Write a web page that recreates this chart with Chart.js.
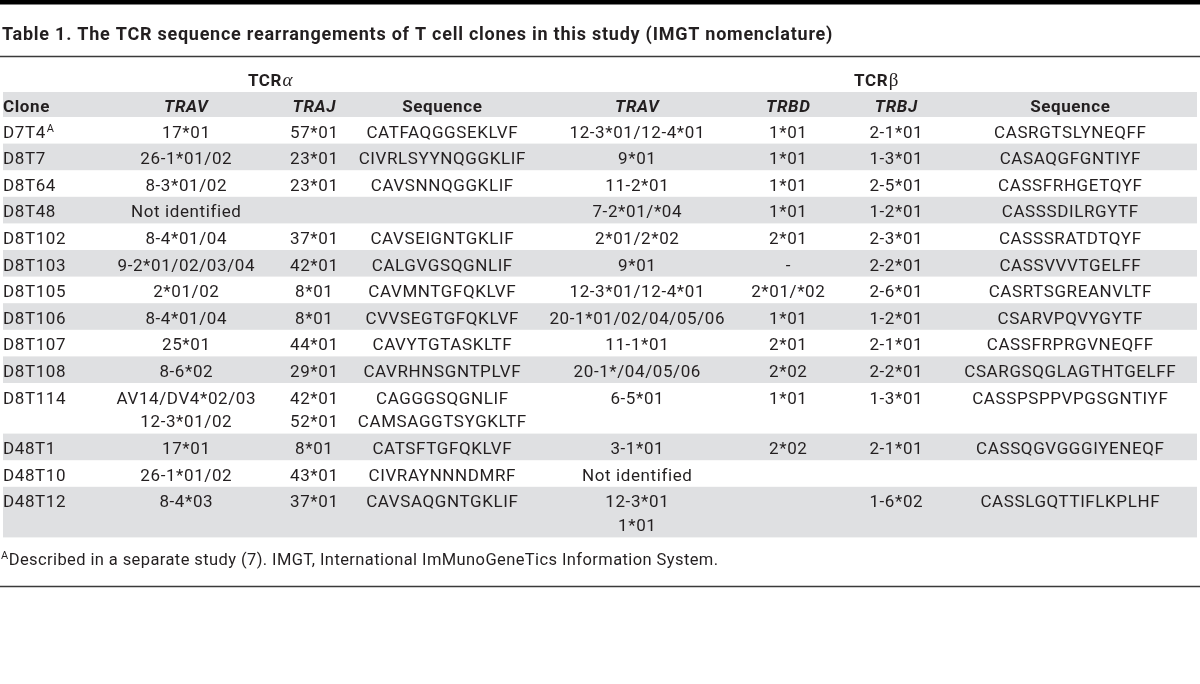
<!DOCTYPE html>
<html lang="en">
<head>
    <meta charset="UTF-8">
    <title>Table 1. TCR sequence rearrangements</title>
    <script src="https://cdn.jsdelivr.net/npm/chart.js"></script>
    <style>
        body { margin: 0; background: #fff; }
        canvas { display: block; }
    </style>
</head>
<body>
    <canvas id="tablaTCR" width="1200" height="684"></canvas>

    <script>
        // Datos de la tabla (una lista por columna)
        var clones = ['D7T4', 'D8T7', 'D8T64', 'D8T48', 'D8T102', 'D8T103', 'D8T105', 'D8T106', 'D8T107', 'D8T108', 'D8T114', 'D48T1', 'D48T10', 'D48T12'];
        var cloneNotes = { 'D7T4': 'A' };
        var travAlpha = ['17*01', '26-1*01/02', '8-3*01/02', 'Not identified', '8-4*01/04', '9-2*01/02/03/04', '2*01/02', '8-4*01/04', '25*01', '8-6*02', 'AV14/DV4*02/03\n12-3*01/02', '17*01', '26-1*01/02', '8-4*03'];
        var trajAlpha = ['57*01', '23*01', '23*01', '', '37*01', '42*01', '8*01', '8*01', '44*01', '29*01', '42*01\n52*01', '8*01', '43*01', '37*01'];
        var seqAlpha = ['CATFAQGGSEKLVF', 'CIVRLSYYNQGGKLIF', 'CAVSNNQGGKLIF', '', 'CAVSEIGNTGKLIF', 'CALGVGSQGNLIF', 'CAVMNTGFQKLVF', 'CVVSEGTGFQKLVF', 'CAVYTGTASKLTF', 'CAVRHNSGNTPLVF', 'CAGGGSQGNLIF\nCAMSAGGTSYGKLTF', 'CATSFTGFQKLVF', 'CIVRAYNNNDMRF', 'CAVSAQGNTGKLIF'];
        var travBeta = ['12-3*01/12-4*01', '9*01', '11-2*01', '7-2*01/*04', '2*01/2*02', '9*01', '12-3*01/12-4*01', '20-1*01/02/04/05/06', '11-1*01', '20-1*/04/05/06', '6-5*01', '3-1*01', 'Not identified', '12-3*01\n1*01'];
        var trbd = ['1*01', '1*01', '1*01', '1*01', '2*01', '-', '2*01/*02', '1*01', '2*01', '2*02', '1*01', '2*02', '', ''];
        var trbj = ['2-1*01', '1-3*01', '2-5*01', '1-2*01', '2-3*01', '2-2*01', '2-6*01', '1-2*01', '2-1*01', '2-2*01', '1-3*01', '2-1*01', '', '1-6*02'];
        var seqBeta = ['CASRGTSLYNEQFF', 'CASAQGFGNTIYF', 'CASSFRHGETQYF', 'CASSSDILRGYTF', 'CASSSRATDTQYF', 'CASSVVVTGELFF', 'CASRTSGREANVLTF', 'CSARVPQVYGYTF', 'CASSFRPRGVNEQFF', 'CSARGSQGLAGTHTGELFF', 'CASSPSPPVPGSGNTIYF', 'CASSQGVGGGIYENEQF', '', 'CASSLGQTTIFLKPLHF'];

        var columnHeads = ['Clone', 'TRAV', 'TRAJ', 'Sequence', 'TRAV', 'TRBD', 'TRBJ', 'Sequence'];
        var italicHeads = [false, true, true, false, true, true, true, false];
        var groupHeads = [['TCR', 'α'], ['TCR', 'β']];
        var titleText = 'Table 1. The TCR sequence rearrangements of T cell clones in this study (IMGT nomenclature)';
        var footnoteMark = 'A';
        var footnoteText = 'Described in a separate study (7). IMGT, International ImMunoGeneTics Information System.';

        // Layout (unidades de las escalas x / y)
        var colX = [3, 186, 314, 442, 637, 788, 896, 1070];
        var groupX = [270, 876];
        var headBandTop = 92, bodyTop = 117, rowPitch = 26.6, linePitch = 24;
        var ink = '#231f20', bandColor = '#dfe0e2';
        var fontFam = 'Roboto, "Open Sans", sans-serif';

        var columns = [clones, travAlpha, trajAlpha, seqAlpha, travBeta, trbd, trbj, seqBeta];

        function linesOf(i) {
            var n = 1;
            columns.forEach(function(col) {
                n = Math.max(n, String(col[i]).split('\n').length);
            });
            return n;
        }

        // texto con espaciado; centrado sin contar el espacio final
        function drawText(ctx, txt, x, y, align, spacing) {
            ctx.letterSpacing = spacing + 'px';
            var w = ctx.measureText(txt).width - spacing;
            var x0 = align === 'center' ? x - w / 2 : x;
            ctx.textAlign = 'left';
            ctx.fillText(txt, x0, y);
            ctx.letterSpacing = '0px';
            return w;
        }

        var tablePlugin = {
            id: 'tablePlugin',
            afterDraw: function(chart) {
                var ctx = chart.ctx;
                var sx = chart.scales.x, sy = chart.scales.y;
                var X = function(v) { return sx.getPixelForValue(v); };
                var Y = function(v) { return sy.getPixelForValue(v); };
                var W = X(1200) - X(0);

                ctx.save();
                ctx.textBaseline = 'alphabetic';

                // barra superior y titulo
                ctx.fillStyle = '#000';
                ctx.fillRect(X(0), Y(0), W, Y(4.5) - Y(0));
                ctx.fillStyle = ink;
                ctx.font = 'bold 18px ' + fontFam;
                drawText(ctx, titleText, X(2), Y(39.5), 'left', 0.75);

                ctx.strokeStyle = '#3a3a3a';
                ctx.lineWidth = 1.5;
                ctx.beginPath();
                ctx.moveTo(X(0), Y(56.5));
                ctx.lineTo(X(1200), Y(56.5));
                ctx.stroke();

                // encabezados de grupo
                groupHeads.forEach(function(g, k) {
                    ctx.font = 'bold 17px ' + fontFam;
                    ctx.letterSpacing = '0.6px';
                    var w1 = ctx.measureText(g[0]).width;
                    ctx.letterSpacing = '0px';
                    ctx.font = (k === 0 ? 'italic ' : '') + '19px "Liberation Serif", serif';
                    var w2 = ctx.measureText(g[1]).width;
                    var x0 = X(groupX[k]) - (w1 + w2) / 2;
                    ctx.font = 'bold 17px ' + fontFam;
                    drawText(ctx, g[0], x0, Y(85.5), 'left', 0.6);
                    ctx.font = (k === 0 ? 'italic ' : '') + '19px "Liberation Serif", serif';
                    ctx.textAlign = 'left';
                    ctx.fillText(g[1], x0 + w1 + 0.5, Y(85.5));
                });

                // bandas grises
                ctx.fillStyle = bandColor;
                ctx.fillRect(X(3), Y(headBandTop), X(1197) - X(3), Y(bodyTop) - Y(headBandTop));
                var top = bodyTop, rowTops = [];
                clones.forEach(function(c, i) {
                    var h = rowPitch + (linesOf(i) - 1) * linePitch;
                    rowTops.push(top);
                    if (i % 2 === 1) {
                        ctx.fillStyle = bandColor;
                        ctx.fillRect(X(3), Y(top), X(1197) - X(3), Y(top + h) - Y(top));
                    }
                    top += h;
                });
                var tableBottom = top;

                // encabezados de columna
                ctx.fillStyle = ink;
                columnHeads.forEach(function(t, j) {
                    ctx.font = (italicHeads[j] ? 'italic ' : '') + 'bold 17px ' + fontFam;
                    drawText(ctx, t, X(colX[j]), Y(111.5), j === 0 ? 'left' : 'center', 0.6);
                });

                // celdas
                columns.forEach(function(col, j) {
                    col.forEach(function(val, i) {
                        String(val).split('\n').forEach(function(line, k) {
                            if (!line) return;
                            var yy = Y(rowTops[i] + 20.5 + k * 23.3);
                            ctx.font = '17px ' + fontFam;
                            var w = drawText(ctx, line, X(colX[j]), yy, j === 0 ? 'left' : 'center', 0.6);
                            if (j === 0 && cloneNotes[line]) {
                                ctx.font = '11px ' + fontFam;
                                ctx.fillText(cloneNotes[line], X(colX[j]) + w + 1.5, yy - 6);
                            }
                        });
                    });
                });

                // nota al pie
                ctx.textAlign = 'left';
                ctx.font = '11px ' + fontFam;
                ctx.fillText(footnoteMark, X(1), Y(tableBottom + 22));
                var wm = ctx.measureText(footnoteMark).width;
                ctx.font = '16.5px ' + fontFam;
                drawText(ctx, footnoteText, X(1) + wm + 0.5, Y(tableBottom + 28), 'left', 0.4);

                ctx.strokeStyle = '#3a3a3a';
                ctx.lineWidth = 1.5;
                ctx.beginPath();
                ctx.moveTo(X(0), Y(tableBottom + 49));
                ctx.lineTo(X(1200), Y(tableBottom + 49));
                ctx.stroke();

                ctx.restore();
            }
        };

        var ctxTabla = document.getElementById('tablaTCR').getContext('2d');
        var tabla = new Chart(ctxTabla, {
            type: 'scatter',
            data: { datasets: [] },
            options: {
                responsive: false,
                animation: false,
                layout: { padding: 0 },
                scales: {
                    x: { type: 'linear', min: 0, max: 1200, display: false },
                    y: { type: 'linear', min: 0, max: 684, reverse: true, display: false }
                },
                plugins: {
                    legend: { display: false },
                    tooltip: { enabled: false }
                }
            },
            plugins: [tablePlugin]
        });
    </script>
</body>
</html>
